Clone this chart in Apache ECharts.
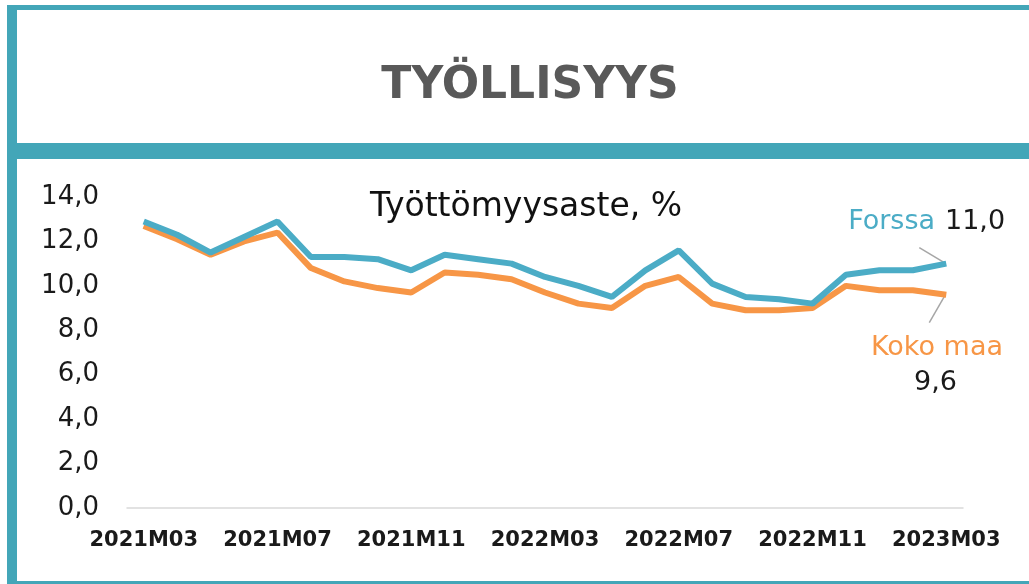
<!DOCTYPE html>
<html>
<head>
<meta charset="utf-8">
<script src="https://cdn.jsdelivr.net/npm/echarts@6/dist/echarts.min.js"></script>
<style>
html,body{margin:0;padding:0;background:#fff;}
#c{width:1029px;height:584px;}
</style>
</head>
<body>
<div id="c"></div>
<script>
const categories = ['2021M03','2021M04','2021M05','2021M06','2021M07','2021M08','2021M09','2021M10','2021M11','2021M12',
  '2022M01','2022M02','2022M03','2022M04','2022M05','2022M06','2022M07','2022M08','2022M09','2022M10','2022M11','2022M12',
  '2023M01','2023M02','2023M03'];
const forssa = [12.9,12.3,11.5,12.2,12.9,11.3,11.3,11.2,10.7,11.4,11.2,11.0,10.4,10.0,9.5,10.7,11.6,10.1,9.5,9.4,9.2,10.5,10.7,10.7,11.0];
const kokoMaa = [12.7,12.1,11.4,12.0,12.4,10.8,10.2,9.9,9.7,10.6,10.5,10.3,9.7,9.2,9.0,10.0,10.4,9.2,8.9,8.9,9.0,10.0,9.8,9.8,9.6];
const seriesNames = ['Forssa','Koko maa'];
const mainTitle = 'TYÖLLISYYS';
const chartTitle = 'Työttömyysaste, %';

const teal = '#43a6b8';
const cForssa = '#4bacc6';
const cKoko = '#f79646';
const fmt = v => v.toFixed(1).replace('.', ',');

const chart = echarts.init(document.getElementById('c'), null, {renderer:'canvas'});
chart.setOption({
  animation:false,
  backgroundColor:'#fff',
  grid:{left:127, right:66, top:197, bottom:76, containLabel:false},
  xAxis:{
    type:'category', data:categories, boundaryGap:true,
    axisLine:{show:true, lineStyle:{color:'#d9d9d9', width:1.5}},
    axisTick:{show:false},
    axisLabel:{interval:3, margin:22, fontFamily:'DejaVu Sans', fontWeight:'bold', fontSize:21, color:'#1a1a1a'},
    splitLine:{show:false}
  },
  yAxis:{
    type:'value', min:0, max:14, interval:2,
    axisLine:{show:false}, axisTick:{show:false}, splitLine:{show:false},
    axisLabel:{margin:28, fontFamily:'DejaVu Sans', fontSize:26, color:'#1a1a1a', formatter:v=>fmt(v)}
  },
  series:[
    {name:seriesNames[1], type:'line', data:kokoMaa, symbol:'none', lineStyle:{color:cKoko, width:6}, z:2},
    {name:seriesNames[0], type:'line', data:forssa, symbol:'none', lineStyle:{color:cForssa, width:6}, z:3}
  ]
});

const last = categories.length - 1;
const pF = chart.convertToPixel({gridIndex:0}, [last, forssa[last]]);
const pK = chart.convertToPixel({gridIndex:0}, [last, kokoMaa[last]]);

chart.setOption({
  graphic:[
    {type:'rect', shape:{x:7,y:5,width:10,height:579}, style:{fill:teal}, silent:true},
    {type:'rect', shape:{x:7,y:5,width:1022,height:5}, style:{fill:teal}, silent:true},
    {type:'rect', shape:{x:7,y:143,width:1022,height:16}, style:{fill:teal}, silent:true},
    {type:'rect', shape:{x:7,y:581,width:1022,height:3}, style:{fill:teal}, silent:true},
    {type:'text', x:530, y:87, style:{text:mainTitle, fontFamily:'DejaVu Sans', fontWeight:'bold', fontSize:44, fill:'#595959', align:'center', verticalAlign:'middle'}},
    {type:'text', x:526, y:207, style:{text:chartTitle, fontFamily:'DejaVu Sans', fontSize:33, fill:'#111', align:'center', verticalAlign:'middle'}},
    {type:'line', shape:{x1:pF[0]-27, y1:pF[1]-16, x2:pF[0]-2, y2:pF[1]-1}, style:{stroke:'#a6a6a6', lineWidth:1.5}},
    {type:'line', shape:{x1:pK[0]-17, y1:pK[1]+28, x2:pK[0]-2, y2:pK[1]+2}, style:{stroke:'#a6a6a6', lineWidth:1.5}},
    {type:'text', x:935, y:222, style:{text:seriesNames[0], fontFamily:'DejaVu Sans', fontSize:27, fill:cForssa, align:'right', verticalAlign:'middle'}},
    {type:'text', x:945, y:222, style:{text:fmt(forssa[last]), fontFamily:'DejaVu Sans', fontSize:27, fill:'#1a1a1a', align:'left', verticalAlign:'middle'}},
    {type:'text', x:1003, y:348, style:{text:seriesNames[1], fontFamily:'DejaVu Sans', fontSize:27, fill:cKoko, align:'right', verticalAlign:'middle'}},
    {type:'text', x:957, y:383, style:{text:fmt(kokoMaa[last]), fontFamily:'DejaVu Sans', fontSize:27, fill:'#1a1a1a', align:'right', verticalAlign:'middle'}}
  ]
});
</script>
</body>
</html>
